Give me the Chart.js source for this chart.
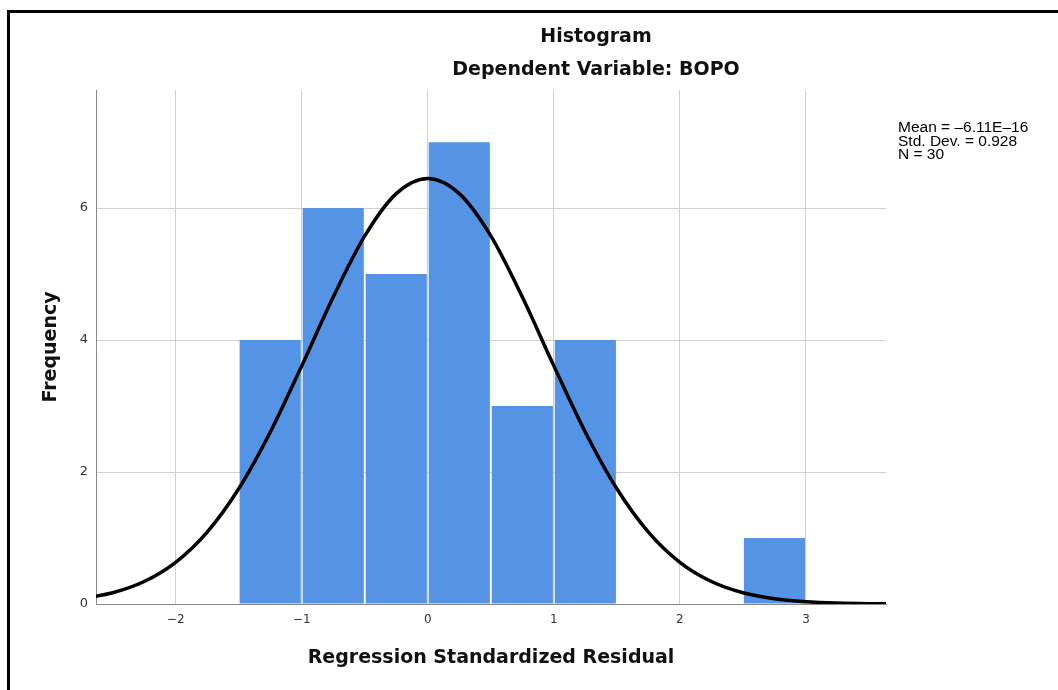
<!DOCTYPE html>
<html>
<head>
<meta charset="utf-8">
<script src="https://cdn.jsdelivr.net/npm/chart.js@4.4.1/dist/chart.umd.min.js"></script>
<style>
  html, body { margin: 0; padding: 0; background: #fff; }
  #wrap { position: relative; width: 1058px; height: 690px; overflow: hidden; }
  #c { position: absolute; left: 0; top: 0; }
  #frame { position: absolute; left: 7px; top: 10px; width: 2000px; height: 2000px;
           border-left: 3px solid #000; border-top: 3px solid #000; pointer-events: none; }
</style>
</head>
<body>
<div id="wrap">
  <canvas id="c" width="1058" height="690"></canvas>
  <div id="frame"></div>
</div>
<script>
// ---- data ----
const binCenters = [-1.25, -0.75, -0.25, 0.25, 0.75, 1.25, 2.75];
const frequencies = [4, 6, 5, 7, 3, 4, 1];
const curveX = [-2.75, -2.5, -2.25, -2, -1.75, -1.5, -1.25, -1, -0.75, -0.5, -0.25, 0,
                0.25, 0.5, 0.75, 1, 1.25, 1.5, 1.75, 2, 2.25, 2.5, 2.75, 3, 3.25, 3.5, 3.75];
const curveY = [0.080, 0.171, 0.341, 0.632, 1.090, 1.746, 2.603, 3.609, 4.652, 5.578, 6.219, 6.449,
                6.219, 5.578, 4.652, 3.609, 2.603, 1.746, 1.090, 0.632, 0.341, 0.171, 0.080, 0.035, 0.014, 0.005, 0.002];
const xTicks = [-2, -1, 0, 1, 2, 3];
const yTicks = [0, 2, 4, 6];
const titleText = 'Histogram';
const subtitleText = 'Dependent Variable: BOPO';
const statsLines = ['Mean = \u20136.11E\u201316', 'Std. Dev. = 0.928', 'N = 30'];
const xTitle = 'Regression Standardized Residual';
const yTitle = 'Frequency';

const textPlugin = {
  id: 'texts',
  afterDraw(chart) {
    const ctx = chart.ctx;
    ctx.save();
    ctx.fillStyle = '#111';
    ctx.textAlign = 'center';
    ctx.textBaseline = 'alphabetic';
    ctx.font = 'bold 19px "DejaVu Sans"';
    ctx.fillText(titleText, 596, 42);
    ctx.fillText(subtitleText, 596, 75);
    ctx.textAlign = 'left';
    ctx.font = '15.5px "Liberation Sans"';
    ctx.fillStyle = '#000';
    statsLines.forEach((s, i) => ctx.fillText(s, 898, 132 + i * 13.5));
    ctx.restore();
  }
};

new Chart(document.getElementById('c'), {
  type: 'bar',
  data: {
    datasets: [
      {
        type: 'line',
        data: curveX.map((x, i) => ({ x: x, y: curveY[i] })),
        borderColor: '#000',
        borderWidth: 3.5,
        pointRadius: 0,
        cubicInterpolationMode: 'monotone',
        fill: false,
        order: 0
      },
      {
        type: 'bar',
        data: binCenters.map((x, i) => ({ x: x, y: frequencies[i] })),
        backgroundColor: '#5594e4',
        borderWidth: 0,
        barPercentage: 0.97,
        categoryPercentage: 1,
        order: 1
      }
    ]
  },
  options: {
    responsive: false,
    animation: false,
    events: [],
    layout: { padding: { left: 20, right: 172, top: 90, bottom: 0 } },
    plugins: { legend: { display: false }, tooltip: { enabled: false }, title: { display: false } },
    scales: {
      x: {
        type: 'linear',
        offset: false,
        min: -2.632,
        max: 3.635,
        afterFit(s) { s.height = 86; },
        afterBuildTicks(s) { s.ticks = xTicks.map(v => ({ value: v })); },
        grid: { color: '#d0d0d0', lineWidth: 1, drawTicks: false, offset: false },
        border: { color: '#8a8a8a', width: 1 },
        ticks: {
          padding: 9,
          color: '#333',
          font: { family: 'DejaVu Sans', size: 12 },
          maxRotation: 0,
          callback: v => (v < 0 ? '\u2212' + Math.abs(v) : String(v))
        },
        title: {
          display: true,
          text: xTitle,
          color: '#111',
          font: { family: 'DejaVu Sans', size: 19, weight: 'bold' },
          padding: { top: 0, bottom: 21 }
        }
      },
      y: {
        type: 'linear',
        min: 0,
        max: 7.79,
        afterFit(s) { s.width = 76; },
        afterBuildTicks(s) { s.ticks = yTicks.map(v => ({ value: v })); },
        grid: { color: '#d0d0d0', lineWidth: 1, drawTicks: false },
        border: { color: '#8a8a8a', width: 1 },
        ticks: {
          padding: 8,
          color: '#333',
          font: { family: 'DejaVu Sans', size: 13 }
        },
        title: {
          display: true,
          text: yTitle,
          color: '#111',
          font: { family: 'DejaVu Sans', size: 19, weight: 'bold' },
          padding: { top: 20, bottom: 0 }
        }
      }
    }
  },
  plugins: [textPlugin]
});
</script>
</body>
</html>
